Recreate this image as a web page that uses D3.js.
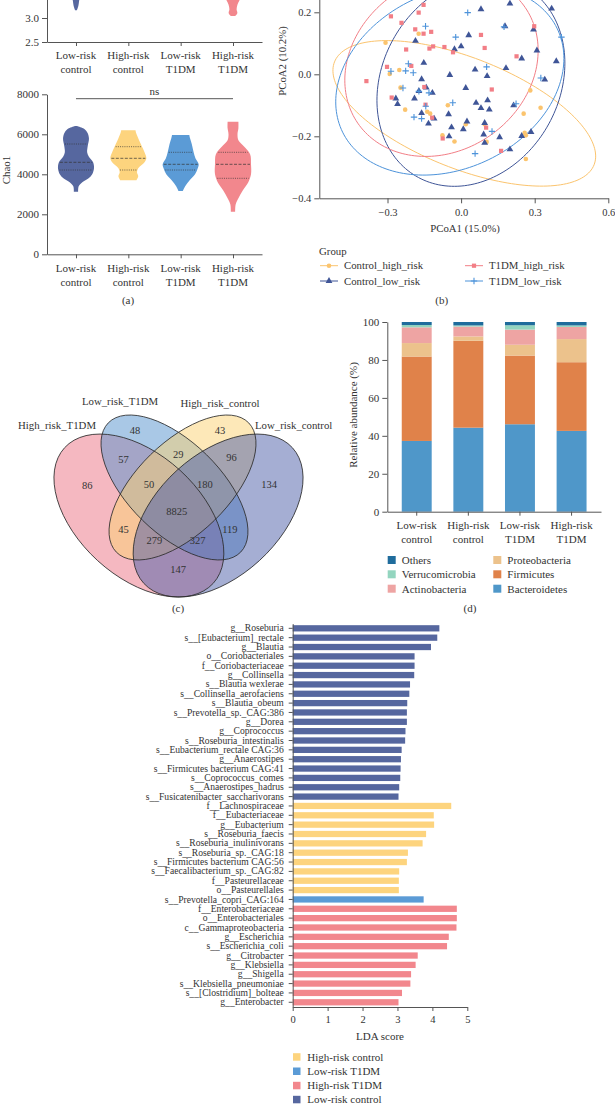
<!DOCTYPE html>
<html lang="en">
<head>
<meta charset="UTF-8">
<title>Gut microbiota: diversity, PCoA, Venn, phyla, LEfSe</title>
<script src="https://d3js.org/d3.v7.min.js"></script>
<style>
  body { margin: 0; background: #fff; }
  svg { display: block; font-family: "Liberation Serif", "DejaVu Serif", serif; }
  text { fill: #333; }
</style>
</head>
<body>
<svg id="fig" width="615" height="1104"></svg>
<script>
// ---------------- data ----------------
const groups = ["Low-risk control", "High-risk control", "Low-risk T1DM", "High-risk T1DM"];
const groupColors = ["#56679f", "#fdd47e", "#5b9bd6", "#f2878d"];

// (a) violin profiles: [value, relative width]
const shannonLowCtrl = [[3.16, 0.05], [3.25, 0.13], [3.35, 0.17], [3.45, 0.22]];
const shannonHighT1DM = [[3.04, 0.12], [3.1, 0.24], [3.18, 0.2], [3.28, 0.25], [3.4, 0.4], [3.45, 0.45]];

const chaoLowCtrl = [[3130, 0.12], [3400, 0.15], [3600, 0.35], [3800, 0.7], [4000, 0.9], [4300, 1.0], [4600, 0.95],
  [4900, 0.7], [5100, 0.62], [5400, 0.65], [5800, 0.72], [6100, 0.62], [6300, 0.4], [6420, 0.05]];
const chaoHighCtrl = [[3700, 0.45], [3900, 0.55], [4100, 0.48], [4300, 0.55], [4600, 0.9], [4800, 1.0], [5100, 0.9],
  [5400, 0.75], [5800, 0.55], [6100, 0.42], [6200, 0.4]];
const chaoLowT1DM = [[3160, 0.12], [3400, 0.25], [3700, 0.5], [4000, 0.8], [4300, 0.95], [4500, 1.0], [4800, 0.82],
  [5100, 0.72], [5500, 0.62], [5800, 0.52], [5970, 0.48]];
const chaoHighT1DM = [[2130, 0.12], [2500, 0.15], [2800, 0.3], [3200, 0.55], [3600, 0.85], [4000, 1.0], [4500, 1.0],
  [5000, 0.95], [5400, 0.6], [5700, 0.3], [6000, 0.25], [6300, 0.3], [6630, 0.3]];
const chaoQuartiles = [[4215, 4600, 5515], [4215, 4800, 5380], [4215, 4500, 5100], [3800, 4500, 5100]];

// (b) PCoA points [PCoA1, PCoA2]
const pcoaSeries = ["Control_high_risk", "Control_low_risk", "T1DM_high_risk", "T1DM_low_risk"];
const pcoaColors = ["#fbc46e", "#3f5597", "#f27e86", "#4d93da"];
const ctrlHigh = [[-0.308, 0.102], [-0.173, 0.131], [-0.252, 0.014], [-0.291, 0.001], [-0.247, -0.043], [-0.228, -0.114],
  [-0.138, -0.121], [-0.126, -0.127], [-0.054, -0.100], [0.019, -0.161], [0.096, -0.161], [0.282, -0.052], [0.324, -0.108],
  [0.255, -0.127], [-0.076, -0.197], [-0.027, -0.217], [0.104, -0.218], [0.259, -0.189], [0.264, -0.197], [0.264, -0.273]];
const ctrlLow = [[0.199, 0.228], [0.081, 0.210], [0.369, 0.212], [0.179, 0.155], [0.295, 0.144], [0.031, 0.126],
  [-0.186, 0.108], [0.309, 0.077], [-0.027, 0.081], [0.000, 0.090], [0.247, 0.051], [0.388, 0.042], [-0.152, 0.037],
  [0.183, 0.020], [0.057, 0.015], [0.106, -0.006], [-0.046, -0.002], [-0.161, -0.016], [0.341, -0.017], [-0.142, -0.043],
  [-0.117, -0.060], [0.019, -0.044], [-0.172, -0.054], [-0.266, -0.078], [-0.259, -0.096], [-0.190, -0.078], [0.061, -0.092],
  [0.108, -0.084], [0.081, -0.109], [0.115, -0.114], [-0.051, -0.129], [-0.161, -0.125], [-0.110, -0.143], [-0.133, -0.159],
  [0.024, -0.152], [0.096, -0.157], [-0.039, -0.171], [0.009, -0.177], [0.092, -0.194], [-0.049, -0.200], [0.157, -0.203],
  [0.247, -0.199], [0.096, -0.221], [0.199, -0.242], [0.214, -0.100], [0.285, -0.186]];
const t1dmHigh = [[-0.153, 0.224], [-0.173, 0.199], [-0.286, 0.187], [-0.243, 0.166], [-0.187, 0.145], [-0.153, 0.131],
  [-0.122, 0.137], [0.081, 0.127], [-0.114, 0.090], [-0.129, 0.083], [-0.068, 0.088], [-0.033, 0.071], [0.096, 0.085],
  [-0.224, 0.080], [-0.203, 0.027], [-0.302, 0.024], [-0.386, -0.022], [0.298, 0.155], [0.226, 0.058], [0.125, -0.049],
  [-0.283, -0.075], [-0.150, -0.041], [-0.145, -0.098], [-0.118, -0.140], [0.102, -0.172], [-0.075, -0.207], [0.163, -0.247]];
const t1dmLow = [[0.027, 0.199], [-0.145, 0.155], [-0.022, 0.120], [0.175, 0.153], [0.409, 0.120], [-0.215, 0.034],
  [-0.286, 0.010], [-0.226, 0.011], [-0.195, 0.005], [-0.237, -0.044], [-0.172, -0.055], [-0.131, -0.060], [-0.144, -0.103],
  [-0.192, -0.138], [-0.161, -0.143], [-0.034, -0.092], [0.104, 0.024], [0.325, -0.012], [0.224, -0.095], [0.126, -0.184],
  [0.057, -0.256]];
// confidence ellipses: [centre x, centre y, axis1 x, axis1 y, axis2 x, axis2 y]
const pcoaEllipses = [
  [0.013, -0.126, 0.529, -0.166, -0.083, -0.166],
  [0.040, -0.024, 0.383, 0.060, 0.000, -0.332],
  [-0.080, 0.029, 0.394, 0.048, 0.000, -0.290],
  [-0.046, -0.019, 0.465, 0.070, 0.000, -0.298]
];

// (c) Venn
const vennSets = ["High_risk_T1DM", "Low_risk_T1DM", "High_risk_control", "Low_risk_control"];
const vennColors = ["#eb7184", "#5391cd", "#fbd171", "#4b5da7"];
const vennCounts = [48, 43, 57, 29, 96, 86, 50, 180, 134, 8825, 45, 119, 279, 327, 147];

// (d) phylum relative abundance (%)
const phyla = ["Bacteroidetes", "Firmicutes", "Proteobacteria", "Actinobacteria", "Verrucomicrobia", "Others"];
const phylaColors = ["#4f97c9", "#e0824a", "#ecc28c", "#eea4a3", "#93d5bf", "#1f6c9c"];
const bacteroidetes = [37.3, 44.3, 46.1, 42.6];
const firmicutes = [44.5, 45.8, 36.2, 36.2];
const proteobacteria = [7.1, 2.3, 5.7, 12.2];
const actinobacteria = [8.3, 5.2, 8.0, 6.4];
const verrucomicrobia = [1.2, 0.6, 2.3, 0.8];
const others = [1.6, 1.8, 1.7, 1.8];

// (e) LEfSe
const ldaTaxa = ["g__Roseburia", "s__[Eubacterium]_rectale", "g__Blautia", "o__Coriobacteriales", "f__Coriobacteriaceae",
  "g__Collinsella", "s__Blautia wexlerae", "s__Collinsella_aerofaciens", "s__Blautia_obeum", "s__Prevotella_sp._CAG:386",
  "g__Dorea", "g__Coprococcus", "s__Roseburia_intestinalis", "s__Eubacterium_rectale CAG:36", "g__Anaerostipes",
  "s__Firmicutes bacterium CAG:41", "s__Coprococcus_comes", "s__Anaerostipes_hadrus", "s__Fusicatenibacter_saccharivorans",
  "f__Lachnospiraceae", "f__Eubacteriaceae", "g__Eubacterium", "s__Roseburia_faecis", "s__Roseburia_inulinivorans",
  "s__Roseburia_sp._CAG:18", "s__Firmicutes bacterium CAG:56", "s__Faecalibacterium_sp._CAG:82", "f__Pasteurellaceae",
  "o__Pasteurellales", "s__Prevotella_copri_CAG:164", "f__Enterobacteriaceae", "o__Enterobacteriales",
  "c__Gammaproteobacteria", "g__Escherichia", "s__Escherichia_coli", "g__Citrobacter", "g__Klebsiella", "g__Shigella",
  "s__Klebsiella_pneumoniae", "s__[Clostridium]_bolteae", "g__Enterobacter"];
const ldaScores = [4.20, 4.14, 3.96, 3.49, 3.49, 3.48, 3.36, 3.34, 3.28, 3.27, 3.27, 3.23, 3.22, 3.12, 3.10, 3.09, 3.08,
  3.05, 3.03, 4.54, 4.04, 4.05, 3.82, 3.72, 3.30, 3.27, 3.05, 3.04, 3.04, 3.75, 4.70, 4.70, 4.69, 4.47, 4.42, 3.58, 3.52,
  3.39, 3.37, 3.13, 3.03];
const ldaGroup = [0, 0, 0, 0, 0, 0, 0, 0, 0, 0, 0, 0, 0, 0, 0, 0, 0, 0, 0, 1, 1, 1, 1, 1, 1, 1, 1, 1, 1, 2, 3, 3, 3, 3, 3,
  3, 3, 3, 3, 3, 3];
const ldaLegend = [1, 2, 3, 0];

// ---------------- drawing ----------------
const svg = d3.select("#fig");
const axisColor = "#555";

function styleAxis(g, size) {
  g.attr("font-family", null).attr("font-size", size).style("color", axisColor);
  g.selectAll("text").style("fill", "#333");
}

function groupLabels(g, x, y0) {
  groups.forEach(name => {
    const parts = name.split(" ");
    const t = g.append("text").attr("y", y0).attr("text-anchor", "middle").attr("font-size", 11);
    t.append("tspan").attr("x", x(name)).text(parts[0]);
    t.append("tspan").attr("x", x(name)).attr("dy", 14).text(parts[1]);
  });
}

// ===== (a) =====
const xA = d3.scalePoint().domain(groups).range([47, 262]).padding(0.554);
const yShannon = d3.scaleLinear().domain([2.5, 3.5]).range([42, -6]);
const yChao = d3.scaleLinear().domain([0, 8000]).range([254.3, 94.3]);
const halfW = d3.scaleLinear().domain([0, 1]).range([0, 18]);

function drawViolin(g, profile, cx, y, color) {
  const area = d3.area().curve(d3.curveCatmullRom)
    .y(d => y(d[0]))
    .x0(d => cx - halfW(d[1]))
    .x1(d => cx + halfW(d[1]));
  g.append("path").datum(profile).attr("d", area).attr("fill", color);
}
function widthAt(profile, v) {
  const i = d3.bisector(d => d[0]).left(profile, v);
  if (i <= 0) return profile[0][1];
  if (i >= profile.length) return profile[profile.length - 1][1];
  const a = profile[i - 1], b = profile[i];
  return a[1] + (b[1] - a[1]) * (v - a[0]) / (b[0] - a[0]);
}

const gA = svg.append("g");
drawViolin(gA, shannonLowCtrl, xA(groups[0]), yShannon, groupColors[0]);
drawViolin(gA, shannonHighT1DM, xA(groups[3]), yShannon, groupColors[3]);
gA.append("g").attr("transform", "translate(47,0)")
  .call(d3.axisLeft(yShannon).tickValues([2.5, 3.0]).tickFormat(d3.format(".1f")).tickSize(5).tickSizeOuter(0))
  .call(g => styleAxis(g, 11));
gA.append("g").attr("transform", "translate(0,42)")
  .call(d3.axisBottom(xA).tickFormat("").tickSize(4).tickSizeOuter(0))
  .call(g => styleAxis(g, 11));
groupLabels(gA, xA, 59);

const chaoProfiles = [chaoLowCtrl, chaoHighCtrl, chaoLowT1DM, chaoHighT1DM];
chaoProfiles.forEach((p, i) => {
  const cx = xA(groups[i]);
  drawViolin(gA, p, cx, yChao, groupColors[i]);
  chaoQuartiles[i].forEach((q, k) => {
    const w = halfW(widthAt(p, q)) - 1;
    gA.append("line").attr("x1", cx - w).attr("x2", cx + w).attr("y1", yChao(q)).attr("y2", yChao(q))
      .attr("stroke", "#333").attr("stroke-width", 0.7)
      .attr("stroke-dasharray", k === 1 ? "3,1.5" : "1,1.2");
  });
});
gA.append("g").attr("transform", "translate(47,0)")
  .call(d3.axisLeft(yChao).tickValues([0, 2000, 4000, 6000, 8000]).tickFormat(d3.format("d")).tickSize(5).tickSizeOuter(0))
  .call(g => styleAxis(g, 11));
gA.append("g").attr("transform", "translate(0,254.3)")
  .call(d3.axisBottom(xA).tickFormat("").tickSize(4).tickSizeOuter(0))
  .call(g => styleAxis(g, 11));
groupLabels(gA, xA, 271.5);
gA.append("line").attr("x1", xA(groups[0])).attr("x2", xA(groups[3])).attr("y1", 98.7).attr("y2", 98.7)
  .attr("stroke", "#444").attr("stroke-width", 0.9);
gA.append("text").attr("x", (xA(groups[1]) + xA(groups[2])) / 2).attr("y", 94.5).attr("text-anchor", "middle")
  .attr("font-size", 11).text("ns");
gA.append("text").attr("transform", "translate(10,170) rotate(-90)").attr("text-anchor", "middle")
  .attr("font-size", 11).text("Chao1");
gA.append("text").attr("x", 128).attr("y", 304).attr("text-anchor", "middle").attr("font-size", 11).text("(a)");

// ===== (b) =====
const xP = d3.scaleLinear().domain([-0.578, 0.6]).range([319.3, 608.3]);
const yP = d3.scaleLinear().domain([-0.4, 0.3]).range([198.3, -18.7]);
const gB = svg.append("g");
const angles = d3.range(0, 2 * Math.PI, Math.PI / 90);
const ellipseLine = d3.line().curve(d3.curveLinearClosed);

pcoaEllipses.forEach((e, i) => {
  const pts = angles.map(t => [
    xP(e[0] + e[2] * Math.cos(t) + e[4] * Math.sin(t)),
    yP(e[1] + e[3] * Math.cos(t) + e[5] * Math.sin(t))
  ]);
  gB.append("path").attr("d", ellipseLine(pts)).attr("fill", "none")
    .attr("stroke", pcoaColors[i]).attr("stroke-width", 1);
});

function marker(g, i, x, y) {
  const c = pcoaColors[i];
  if (i === 0) g.append("circle").attr("cx", x).attr("cy", y).attr("r", 2.3).attr("fill", c);
  else if (i === 1) g.append("path").attr("d", d3.symbol(d3.symbolTriangle, 20)()).attr("transform", `translate(${x},${y})`).attr("fill", c);
  else if (i === 2) g.append("rect").attr("x", x - 2.1).attr("y", y - 2.1).attr("width", 4.2).attr("height", 4.2).attr("fill", c);
  else g.append("path").attr("d", "M-3.2,0H3.2M0,-3.2V3.2").attr("transform", `translate(${x},${y})`)
    .attr("stroke", c).attr("stroke-width", 1.1);
}
[ctrlHigh, ctrlLow, t1dmHigh, t1dmLow].forEach((pts, i) => {
  pts.forEach(d => marker(gB, i, xP(d[0]), yP(d[1])));
});

gB.append("g").attr("transform", "translate(319.3,0)")
  .call(d3.axisLeft(yP).tickValues([-0.4, -0.2, 0, 0.2]).tickFormat(d3.format(".1f")).tickSize(5).tickSizeOuter(0))
  .call(g => styleAxis(g, 10.5));
gB.append("g").attr("transform", "translate(0,198.3)")
  .call(d3.axisBottom(xP).tickValues([-0.3, 0, 0.3, 0.6]).tickFormat(d3.format(".1f")).tickSize(5).tickPadding(5).tickSizeOuter(0))
  .call(g => styleAxis(g, 10.5));
gB.append("text").attr("x", 465).attr("y", 231.5).attr("text-anchor", "middle").attr("font-size", 10.8).text("PCoA1 (15.0%)");
gB.append("text").attr("transform", "translate(286,61) rotate(-90)").attr("text-anchor", "middle")
  .attr("font-size", 10.8).text("PCoA2 (10.2%)");

gB.append("text").attr("x", 319).attr("y", 255).attr("font-size", 10.8).text("Group");
const legB = [[0, 320, 265.7], [1, 320, 281], [2, 465, 265.7], [3, 465, 281]];
legB.forEach(([i, lx, ly]) => {
  gB.append("line").attr("x1", lx).attr("x2", lx + 18).attr("y1", ly).attr("y2", ly)
    .attr("stroke", pcoaColors[i]).attr("stroke-width", 1);
  marker(gB, i, lx + 9, ly);
  gB.append("text").attr("x", lx + 24).attr("y", ly + 3.6).attr("font-size", 10.8).text(pcoaSeries[i]);
});
gB.append("text").attr("x", 441.7).attr("y", 304).attr("text-anchor", "middle").attr("font-size", 11).text("(b)");

// ===== (c) Venn =====
const vx = d3.scaleLinear().domain([0, 1]).range([35, 322]);
const vy = d3.scaleLinear().domain([0, 1]).range([620, 333]);
const vennShapes = [ // centre x, centre y, semi-major, semi-minor, rotation (deg, y up)
  [0.362, 0.364, 0.3505, 0.213, -42.4],
  [0.486, 0.4617, 0.3223, 0.1596, -44.35],
  [0.514, 0.4617, 0.3223, 0.1596, 44.35],
  [0.638, 0.364, 0.3505, 0.213, 42.4]
];
const vennLabelPos = [[0.348, 0.660], [0.645, 0.660], [0.308, 0.560], [0.499, 0.577], [0.685, 0.566], [0.182, 0.468],
  [0.397, 0.474], [0.592, 0.474], [0.816, 0.474], [0.494, 0.377], [0.308, 0.316], [0.679, 0.316], [0.416, 0.276],
  [0.567, 0.276], [0.499, 0.177]];
const gC = svg.append("g");
function vennEllipse(s) {
  const cx = vx(s[0]), cy = vy(s[1]);
  return gC.append("ellipse").attr("cx", cx).attr("cy", cy)
    .attr("rx", vx(s[2]) - vx(0)).attr("ry", vx(s[3]) - vx(0))
    .attr("transform", `rotate(${-s[4]},${cx},${cy})`);
}
vennShapes.forEach((s, i) => vennEllipse(s).attr("fill", vennColors[i]).attr("fill-opacity", 0.5));
vennShapes.forEach(s => vennEllipse(s).attr("fill", "none").attr("stroke", "#2b2b2b").attr("stroke-width", 0.8));
vennCounts.forEach((n, i) => {
  gC.append("text").attr("x", vx(vennLabelPos[i][0])).attr("y", vy(vennLabelPos[i][1]) + 3.6)
    .attr("text-anchor", "middle").attr("font-size", 10.5).text(n);
});
const vennTitlePos = [[57, 429, "middle"], [120, 405, "middle"], [220, 406.5, "middle"], [255, 429, "start"]];
vennSets.forEach((name, i) => {
  gC.append("text").attr("x", vennTitlePos[i][0]).attr("y", vennTitlePos[i][1])
    .attr("text-anchor", vennTitlePos[i][2]).attr("font-size", 10.8).text(name);
});
gC.append("text").attr("x", 178).attr("y", 612).attr("text-anchor", "middle").attr("font-size", 11).text("(c)");

// ===== (d) stacked bars =====
const xD = d3.scaleBand().domain(groups).range([387.3, 601]).paddingInner(0.42).paddingOuter(0.28);
const yD = d3.scaleLinear().domain([0, 100]).range([511.7, 322]);
const phylaValues = [bacteroidetes, firmicutes, proteobacteria, actinobacteria, verrucomicrobia, others];
const rowsD = groups.map((g, j) => {
  const r = { group: g };
  phyla.forEach((p, k) => r[p] = phylaValues[k][j]);
  return r;
});
const stacked = d3.stack().keys(phyla)(rowsD);
const gD = svg.append("g");
gD.selectAll(".layer").data(stacked).enter().append("g")
  .attr("fill", (d, i) => phylaColors[i])
  .selectAll("rect").data(d => d).enter().append("rect")
  .attr("x", d => xD(d.data.group))
  .attr("y", d => yD(d[1]))
  .attr("width", xD.bandwidth())
  .attr("height", d => yD(d[0]) - yD(d[1]));
gD.append("g").attr("transform", "translate(387.3,0)")
  .call(d3.axisLeft(yD).tickValues([0, 20, 40, 60, 80, 100]).tickSize(5).tickPadding(3).tickSizeOuter(0))
  .call(g => styleAxis(g, 11));
gD.append("g").attr("transform", "translate(0,511.7)")
  .call(d3.axisBottom(xD).tickFormat("").tickSize(4).tickSizeOuter(0))
  .call(g => styleAxis(g, 11));
const xDc = name => xD(name) + xD.bandwidth() / 2;
groupLabels(gD, xDc, 528.7);
gD.append("text").attr("transform", "translate(357,415) rotate(-90)").attr("text-anchor", "middle")
  .attr("font-size", 11).text("Relative abundance (%)");
const legD = [[5, 387.7, 560], [4, 387.7, 574.3], [3, 387.7, 588.7], [2, 493.3, 560], [1, 493.3, 574.3], [0, 493.3, 588.7]];
legD.forEach(([k, lx, ly]) => {
  gD.append("rect").attr("x", lx).attr("y", ly - 4).attr("width", 8).attr("height", 8).attr("fill", phylaColors[k]);
  gD.append("text").attr("x", lx + 14).attr("y", ly + 3.8).attr("font-size", 11).text(phyla[k]);
});
gD.append("text").attr("x", 470).attr("y", 612).attr("text-anchor", "middle").attr("font-size", 11).text("(d)");

// ===== (e) LDA =====
const xE = d3.scaleLinear().domain([0, 5]).range([292.7, 467.3]);
const yE = d3.scaleBand().domain(ldaTaxa).range([623.6, 1007]).paddingInner(0.33).paddingOuter(0.17);
const gE = svg.append("g");
gE.selectAll("rect").data(ldaTaxa).enter().append("rect")
  .attr("x", xE(0))
  .attr("y", d => yE(d))
  .attr("height", yE.bandwidth())
  .attr("width", (d, i) => xE(ldaScores[i]) - xE(0))
  .attr("fill", (d, i) => groupColors[ldaGroup[i]]);
gE.append("g").attr("transform", "translate(292.7,0)")
  .call(d3.axisLeft(yE).tickSize(4).tickPadding(5).tickSizeOuter(0))
  .call(g => styleAxis(g, 9.6));
gE.append("g").attr("transform", "translate(0,1007)")
  .call(d3.axisBottom(xE).ticks(5).tickSize(4).tickPadding(5).tickSizeOuter(0))
  .call(g => styleAxis(g, 10.5));
gE.append("text").attr("x", 380).attr("y", 1039.5).attr("text-anchor", "middle").attr("font-size", 11).text("LDA score");
const legEy = [1057, 1071.3, 1085.6, 1099.6];
ldaLegend.forEach((gi, r) => {
  gE.append("rect").attr("x", 293).attr("y", legEy[r] - 3.8).attr("width", 7.5).attr("height", 7.5).attr("fill", groupColors[gi]);
  gE.append("text").attr("x", 307.3).attr("y", legEy[r] + 3.6).attr("font-size", 11).text(groups[gi]);
});
</script>
</body>
</html>
